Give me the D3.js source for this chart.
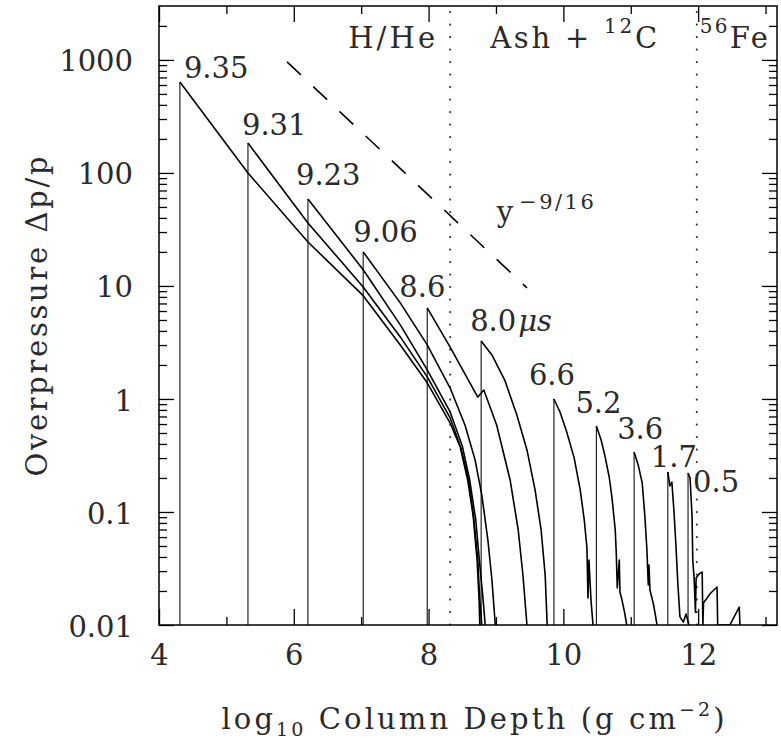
<!DOCTYPE html>
<html>
<head>
<meta charset="utf-8">
<title>Overpressure vs column depth</title>
<script src="https://cdn.jsdelivr.net/npm/d3@7"></script>
<style>
  body { margin: 0; background: #fff; }
  text { font-family: "DejaVu Serif", serif; fill: #2a2a2a; }
  .curve { fill: none; stroke: #000; stroke-width: 1.6; stroke-linejoin: round; }
  .front { stroke: #111; stroke-width: 1.1; }
  .frame { fill: none; stroke: #000; stroke-width: 1.5; }
  .tick line { stroke: #000; stroke-width: 1.3; }
</style>
</head>
<body>
<svg id="chart" width="781" height="743"></svg>
<script>
// tick values and labels
const xTicks = [4, 6, 8, 10, 12];
const xMinorTicks = [5, 7, 9, 11, 13];
const yTicks = [0.01, 0.1, 1, 10, 100, 1000];
const yTickLabels = ["0.01", "0.1", "1", "10", "100", "1000"];

// composition boundaries (log10 column depth)
const boundaries = [8.32, 11.98];

// curve labels (time in microseconds)
const times = ["9.35", "9.31", "9.23", "9.06", "8.6", "8.0", "6.6", "5.2", "3.6", "1.7", "0.5"];

// overpressure profiles: [log10 column depth, overpressure], first point is the shock front peak
const profile935 = [[4.31, 639], [5.32, 100], [6.21, 24.5], [7.03, 8.2], [7.58, 3.0], [7.98, 1.39], [8.32, 0.61], [8.47, 0.376], [8.58, 0.192], [8.66, 0.094], [8.72, 0.0376], [8.75, 0.0166], [8.76, 0.01]];
const profile931 = [[5.32, 184], [6.21, 36.1], [7.03, 9.8], [7.58, 3.54], [7.98, 1.57], [8.32, 0.68], [8.48, 0.368], [8.60, 0.184], [8.67, 0.0885], [8.73, 0.0376], [8.76, 0.0166], [8.79, 0.01]];
const profile923 = [[6.21, 58.9], [7.03, 13.9], [7.58, 4.52], [7.98, 1.81], [8.32, 0.767], [8.50, 0.384], [8.61, 0.192], [8.70, 0.085], [8.76, 0.034], [8.81, 0.0166], [8.84, 0.01]];
const profile906 = [[7.03, 20.0], [7.58, 7.08], [7.98, 3.01], [8.32, 1.25], [8.54, 0.589], [8.69, 0.289], [8.79, 0.141], [8.88, 0.0565], [8.94, 0.025], [8.99, 0.01]];
const profile86 = [[7.98, 6.39], [8.32, 2.88], [8.73, 1.04], [8.82, 1.20], [9.01, 0.589], [9.21, 0.192], [9.33, 0.0693], [9.40, 0.0277], [9.46, 0.01]];
const profile80 = [[8.78, 3.26], [8.94, 2.45], [9.13, 1.47], [9.31, 0.722], [9.46, 0.354], [9.58, 0.157], [9.67, 0.0693], [9.73, 0.0277], [9.76, 0.01]];
const profile66 = [[9.86, 1.0], [9.95, 0.767], [10.05, 0.511], [10.16, 0.301], [10.25, 0.157], [10.31, 0.085], [10.35, 0.048], [10.365, 0.0173], [10.38, 0.0376], [10.41, 0.0166], [10.44, 0.01]];
const profile52 = [[10.49, 0.577], [10.56, 0.434], [10.62, 0.307], [10.68, 0.204], [10.72, 0.136], [10.77, 0.0693], [10.785, 0.0434], [10.80, 0.0213], [10.83, 0.0376], [10.84, 0.0196], [10.87, 0.0166], [10.91, 0.0128], [10.94, 0.01]];
const profile36 = [[11.05, 0.34], [11.11, 0.261], [11.17, 0.181], [11.21, 0.0904], [11.24, 0.0461], [11.26, 0.0226], [11.27, 0.034], [11.285, 0.0204], [11.34, 0.015], [11.39, 0.01]];
const profile17 = [[11.55, 0.226], [11.58, 0.170], [11.61, 0.184], [11.64, 0.104], [11.67, 0.0511], [11.70, 0.0226], [11.73, 0.0118], [11.78, 0.0106], [11.82, 0.0125], [11.865, 0.01]];
const profile05 = [[11.85, 0.221], [11.88, 0.2], [11.91, 0.0904], [11.92, 0.0376], [11.94, 0.0261], [11.96, 0.013], [11.97, 0.026], [12.02, 0.0285], [12.06, 0.0294], [12.07, 0.01], [12.08, 0.0157], [12.18, 0.019], [12.28, 0.0217], [12.29, 0.01], [12.47, 0.01], [12.61, 0.0144], [12.62, 0.01]];

// y^-9/16 reference line end points
const powerLaw = [[5.9, 960], [9.46, 9.6]];

const profiles = [profile935, profile931, profile923, profile906, profile86, profile80,
                  profile66, profile52, profile36, profile17, profile05];

// label offsets from each peak, in pixels
const labelOffsets = [[4, -4], [-6, -8], [-12, -14], [-10, -10], [-28, -11], [-11, -10],
                      [-25, -14], [-21, -13], [-17, -13], [-17, -5], [5, 19]];

const width = 781, height = 743;
const margin = { top: 6, right: 4, bottom: 118, left: 159 };
const fontSize = 29;

const svg = d3.select("#chart");

const x = d3.scaleLinear().domain([4, 13.17]).range([margin.left, width - margin.right]);
const y = d3.scaleLog().domain([0.01, 3000]).range([height - margin.bottom, margin.top]);

const x0 = margin.left, x1 = width - margin.right;
const y0 = height - margin.bottom, y1 = margin.top;

// minor y ticks 2..9 per decade
const yMinorTicks = [];
for (let d = -2; d <= 3; d++) {
  for (let k = 2; k <= 9; k++) {
    const v = k * Math.pow(10, d);
    if (v < 3000) yMinorTicks.push(v);
  }
}

svg.append("clipPath").attr("id", "clip")
  .append("rect").attr("x", x0).attr("y", y1).attr("width", x1 - x0).attr("height", y0 - y1);

const plot = svg.append("g").attr("clip-path", "url(#clip)");

// boundaries
plot.selectAll(".boundary")
  .data(boundaries)
  .enter()
  .append("line")
  .attr("class", "boundary")
  .attr("x1", d => x(d)).attr("x2", d => x(d))
  .attr("y1", y1 + 6).attr("y2", y0)
  .attr("stroke", "#333")
  .attr("stroke-width", 2.1)
  .attr("stroke-linecap", "round")
  .attr("stroke-dasharray", "0.1 12.4");

// power law dashed line
plot.append("path")
  .datum(powerLaw)
  .attr("fill", "none")
  .attr("stroke", "#000")
  .attr("stroke-width", 1.6)
  .attr("stroke-dasharray", "19 17")
  .attr("d", d3.line().x(d => x(d[0])).y(d => y(d[1])));

// shock fronts (vertical lines)
plot.selectAll(".front")
  .data(profiles)
  .enter()
  .append("line")
  .attr("class", "front")
  .attr("x1", d => x(d[0][0])).attr("x2", d => x(d[0][0]))
  .attr("y1", y(0.01)).attr("y2", d => y(d[0][1]));

// profiles
const line = d3.line()
  .x(d => x(d[0]))
  .y(d => y(d[1]));

plot.selectAll(".curve")
  .data(profiles)
  .enter()
  .append("path")
  .attr("class", "curve")
  .attr("d", line);

// axes
function styleAxis(g) {
  g.select(".domain").remove();
  g.attr("font-family", null).attr("font-size", null);
  g.selectAll("text").attr("font-size", fontSize).attr("fill", "#2a2a2a");
}

svg.append("g").attr("transform", `translate(0,${y0})`)
  .call(d3.axisBottom(x).tickValues(xTicks).tickSize(-16).tickPadding(19).tickFormat(d3.format("d")))
  .call(styleAxis);
svg.append("g").attr("transform", `translate(0,${y0})`)
  .call(d3.axisBottom(x).tickValues(xMinorTicks).tickSize(-8).tickFormat(""))
  .call(styleAxis);
svg.append("g").attr("transform", `translate(0,${y1})`)
  .call(d3.axisTop(x).tickValues(xTicks).tickSize(-16).tickFormat(""))
  .call(styleAxis);
svg.append("g").attr("transform", `translate(0,${y1})`)
  .call(d3.axisTop(x).tickValues(xMinorTicks).tickSize(-8).tickFormat(""))
  .call(styleAxis);

svg.append("g").attr("transform", `translate(${x0},0)`)
  .call(d3.axisLeft(y).tickValues(yTicks).tickSize(-15).tickPadding(26)
    .tickFormat((d, i) => yTickLabels[i]))
  .call(styleAxis)
  .call(g => g.selectAll("text").attr("dy", "0.38em"));
svg.append("g").attr("transform", `translate(${x0},0)`)
  .call(d3.axisLeft(y).tickValues(yMinorTicks).tickSize(-8).tickFormat(""))
  .call(styleAxis);
svg.append("g").attr("transform", `translate(${x1},0)`)
  .call(d3.axisRight(y).tickValues(yTicks).tickSize(-15).tickFormat(""))
  .call(styleAxis);
svg.append("g").attr("transform", `translate(${x1},0)`)
  .call(d3.axisRight(y).tickValues(yMinorTicks).tickSize(-8).tickFormat(""))
  .call(styleAxis);

svg.append("rect").attr("class", "frame")
  .attr("x", x0).attr("y", y1).attr("width", x1 - x0).attr("height", y0 - y1);

// curve labels
const labels = svg.selectAll(".tlabel")
  .data(times)
  .enter()
  .append("text")
  .attr("class", "tlabel")
  .attr("font-size", fontSize)
  .attr("x", (d, i) => x(profiles[i][0][0]) + labelOffsets[i][0])
  .attr("y", (d, i) => y(profiles[i][0][1]) + labelOffsets[i][1])
  .text(d => d);
labels.filter(d => d === "8.0")
  .append("tspan").attr("font-style", "italic").attr("dx", 2).text("μs");

// power law label
const plX = 9.01;
const plY = powerLaw[0][1] * Math.pow(10, -(9 / 16) * (plX - powerLaw[0][0]));
const pl = svg.append("text")
  .attr("x", x(plX))
  .attr("y", y(plY) - 38)
  .attr("font-size", fontSize);
pl.append("tspan").text("y");
pl.append("tspan").attr("font-size", 21).attr("dy", -13).attr("dx", 6)
  .attr("letter-spacing", 2.5).text("−9/16");

// region labels
const regY = 48;
svg.append("text").attr("x", x(boundaries[0]) - 15).attr("y", regY)
  .attr("text-anchor", "end").attr("font-size", fontSize)
  .attr("textLength", 87).attr("lengthAdjust", "spacing").text("H/He");
const ash = svg.append("text").attr("x", x(boundaries[0]) + 40).attr("y", regY)
  .attr("font-size", fontSize)
  .attr("textLength", 167).attr("lengthAdjust", "spacing");
ash.append("tspan").text("Ash  +  ");
ash.append("tspan").attr("font-size", 20).attr("dy", -15).text("12");
ash.append("tspan").attr("dy", 15).text("C");
const fe = svg.append("text").attr("x", x(boundaries[1]) + 3).attr("y", regY)
  .attr("font-size", fontSize)
  .attr("textLength", 68).attr("lengthAdjust", "spacing");
fe.append("tspan").attr("font-size", 20).attr("dy", -15).text("56");
fe.append("tspan").attr("dy", 15).text("Fe");

// axis titles
const xt = svg.append("text")
  .attr("x", 473)
  .attr("y", 729)
  .attr("text-anchor", "middle")
  .attr("font-size", fontSize)
  .attr("textLength", 503).attr("lengthAdjust", "spacing");
xt.append("tspan").text("log");
xt.append("tspan").attr("font-size", 19).attr("dy", 7).text("10");
xt.append("tspan").attr("dy", -7).text(" Column Depth (g cm");
xt.append("tspan").attr("font-size", 19).attr("dy", -13).text("−2");
xt.append("tspan").attr("dy", 13).text(")");

svg.append("text")
  .attr("transform", `translate(47,${(y0 + y1) / 2 + 1}) rotate(-90)`)
  .attr("text-anchor", "middle")
  .attr("font-size", fontSize)
  .attr("textLength", 320).attr("lengthAdjust", "spacing")
  .text("Overpressure  Δp/p");
</script>
</body>
</html>
